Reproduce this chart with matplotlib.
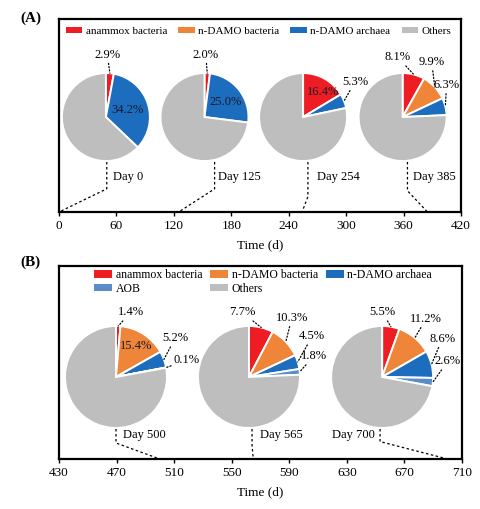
import matplotlib
matplotlib.use('Agg')
import matplotlib.pyplot as plt
from matplotlib.patches import Patch
import numpy as np

plt.rcParams['font.family'] = ['Liberation Serif', 'DejaVu Serif']

# ---------------- data ----------------
cats_A = ['anammox bacteria', 'n-DAMO bacteria', 'n-DAMO archaea', 'Others']
days_A = [0, 125, 254, 385]
anammox_A = [2.9, 2.0, 16.4, 8.1]
ndamo_bact_A = [0.0, 0.0, 0.0, 9.9]
ndamo_arch_A = [34.2, 25.0, 5.3, 6.3]
xticks_A = [0, 60, 120, 180, 240, 300, 360, 420]

cats_B = ['anammox bacteria', 'n-DAMO bacteria', 'n-DAMO archaea', 'AOB', 'Others']
days_B = [500, 565, 700]
anammox_B = [1.4, 7.7, 5.5]
ndamo_bact_B = [15.4, 10.3, 11.2]
ndamo_arch_B = [5.2, 4.5, 8.6]
aob_B = [0.1, 1.8, 2.6]
xticks_B = [430, 470, 510, 550, 590, 630, 670, 710]

colors = {'anammox bacteria': '#EE1D23', 'n-DAMO bacteria': '#EF8538',
          'n-DAMO archaea': '#1C6DBE', 'AOB': '#5A8DC8', 'Others': '#BEBEBE'}

# ---------------- layout ----------------
W, H = 480, 509
fig = plt.figure(figsize=(W / 100, H / 100), dpi=100)
axA = fig.add_axes([59 / W, 1 - 212 / H, (461 - 59) / W, (212 - 19) / H])
axB = fig.add_axes([59 / W, 1 - 459 / H, (462 - 59) / W, (459 - 266) / H])

FS = 9
LIM = 1.8

# pie layout (centre x in data units, centre y as axes fraction, radius px)
pieA_x = [49, 152, 255, 359]
pieA_y = 0.492
pieA_R = 44
pieB_x = [469.6, 562, 654.5]
pieB_y = 0.425
pieB_R = 51

# label offsets (pie-radius units), per category in order; (dx, dy, outside)
labA = [
    [(0.03, 1.42, True), None, (0.50, 0.16, False)],
    [(0.03, 1.42, True), None, (0.48, 0.34, False)],
    [(0.45, 0.57, False), None, (1.18, 0.80, True)],
    [(-0.11, 1.36, True), (0.66, 1.25, True), (1.00, 0.73, True)],
]
labB = [
    [(0.29, 1.27, True), (0.39, 0.61, False), (1.16, 0.76, True), (1.39, 0.33, True)],
    [(-0.14, 1.27, True), (0.84, 1.16, True), (1.24, 0.80, True), (1.27, 0.41, True)],
    [(0.00, 1.27, True), (0.86, 1.14, True), (1.18, 0.75, True), (1.29, 0.31, True)],
]
dayA_off = [(0.16, 'left'), (0.30, 'left'), (0.32, 'left'), (0.23, 'left')]
dayA_dy = -1.36
dayB_off = [(0.14, 'left'), (0.22, 'left'), (-0.14, 'right')]
dayB_dy = -1.14
connA_dx = [0.02, 0.23, 0.11, 0.11]
connA_elbow = [0.12, 0.12, 0.08, 0.11]
connB_dx = [0.0, 0.06, -0.04]
connB_elbow = [0.083, 0.07, 0.09]


def style_main(ax, ticks):
    ax.set_xlim(ticks[0], ticks[-1])
    ax.set_ylim(0, 1)
    ax.set_xticks(ticks)
    ax.set_yticks([])
    for s in ax.spines.values():
        s.set_linewidth(1.6)
    ax.tick_params(axis='x', direction='out', length=3, width=1, labelsize=FS + 0.5, pad=3)
    ax.set_xlabel('Time (d)', fontsize=FS + 0.5, labelpad=5)


style_main(axA, xticks_A)
style_main(axB, xticks_B)


def draw_pies(ax, cats, series, days, px, py, R, labs, day_off, day_dy, conn_dx, conn_elbow):
    S = 2 * LIM * R
    for i, d in enumerate(days):
        vals = [s[i] for s in series]
        vals_all = vals + [100 - sum(vals)]
        cx, cy = ax.transData.transform((px[i], py))
        pax = fig.add_axes([(cx - S / 2) / W, (cy - S / 2) / H, S / W, S / H])
        pax.patch.set_alpha(0)
        keep = [k for k, v in enumerate(vals_all) if v > 0]
        pax.pie([vals_all[k] for k in keep],
                colors=[colors[cats[k]] for k in keep],
                startangle=90, counterclock=False, radius=1,
                wedgeprops=dict(edgecolor='white', linewidth=1.4))
        pax.set_xlim(-LIM, LIM)
        pax.set_ylim(-LIM, LIM)
        pax.axis('off')
        cum = 0
        for k, v in enumerate(vals):
            start = cum
            cum += v
            lab = labs[i][k]
            if lab is None or v <= 0:
                continue
            dx, dy, outside = lab
            mid = np.deg2rad(90 - (start + v / 2) * 3.6)
            txt = f'{v:.1f}%'
            if outside:
                pax.annotate(txt, xy=(np.cos(mid), np.sin(mid)), xytext=(dx, dy),
                             ha='center', va='center', fontsize=FS,
                             arrowprops=dict(arrowstyle='-', linestyle=(0, (1, 1.6)),
                                             linewidth=0.9, color='black',
                                             shrinkA=0, shrinkB=0))
            else:
                pax.text(dx, dy, txt, ha='center', va='center', fontsize=FS, color='#1a1a2e')
        ox, ha = day_off[i]
        pax.text(ox, day_dy, f'Day {d}', ha=ha, va='center', fontsize=FS)
        top_disp = pax.transData.transform((conn_dx[i], -1.02))
        tx, ty = ax.transData.inverted().transform(top_disp)
        ax.plot([tx, tx, d], [ty, conn_elbow[i], 0], color='black',
                linestyle=(0, (2, 2)), linewidth=0.9, clip_on=False)


draw_pies(axA, cats_A, [anammox_A, ndamo_bact_A, ndamo_arch_A], days_A,
          pieA_x, pieA_y, pieA_R, labA, dayA_off, dayA_dy, connA_dx, connA_elbow)
draw_pies(axB, cats_B, [anammox_B, ndamo_bact_B, ndamo_arch_B, aob_B], days_B,
          pieB_x, pieB_y, pieB_R, labB, dayB_off, dayB_dy, connB_dx, connB_elbow)

# legends
hA = [Patch(facecolor=colors[c], edgecolor='none') for c in cats_A]
axA.legend(hA, cats_A, loc='upper left', bbox_to_anchor=(0.0, 0.995), ncol=4,
           frameon=False, fontsize=8, handlelength=1.5, handleheight=0.55,
           handletextpad=0.3, columnspacing=1.0, borderaxespad=0.2)
order_B = ['anammox bacteria', 'AOB', 'n-DAMO bacteria', 'Others', 'n-DAMO archaea']
hB = [Patch(facecolor=colors[c], edgecolor='none') for c in order_B]
axB.legend(hB, order_B, loc='upper left', bbox_to_anchor=(0.07, 1.02), ncol=3,
           frameon=False, fontsize=8.5, handlelength=1.5, handleheight=0.55,
           handletextpad=0.3, columnspacing=0.7, borderaxespad=0.2,
           labelspacing=0.15)

fig.text(20 / W, 1 - 18 / H, '(A)', fontsize=11, fontweight='bold', va='center', ha='left')
fig.text(20 / W, 1 - 262 / H, '(B)', fontsize=11, fontweight='bold', va='center', ha='left')

fig.savefig('out.png', dpi=100)
